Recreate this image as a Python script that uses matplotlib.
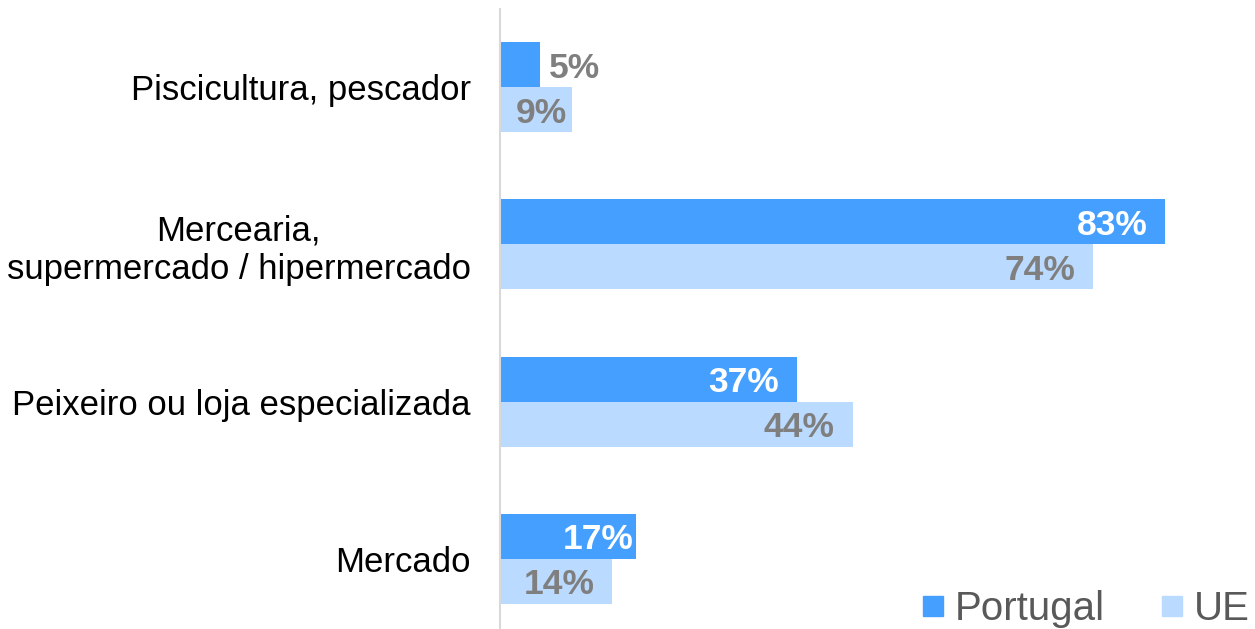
import numpy as np
import matplotlib.pyplot as plt
from matplotlib.lines import Line2D

plt.rcParams['font.family'] = ['Liberation Sans', 'DejaVu Sans']

# data
categories = ['Piscicultura, pescador',
              'Mercearia,\nsupermercado / hipermercado',
              'Peixeiro ou loja especializada',
              'Mercado']
portugal = [5, 83, 37, 17]
ue = [9, 74, 44, 14]

c_pt = '#449FFF'
c_ue = '#BBDAFF'
grey = '#7F7F7F'

fig = plt.figure(figsize=(12.55, 6.29), dpi=100)
ax = fig.add_axes([500/1255, 0, 755/1255, 620/629])

y = np.arange(len(categories))[::-1]
h = 0.286
ax.barh(y + h/2, portugal, height=h, color=c_pt)
ax.barh(y - h/2, ue, height=h, color=c_ue)

ax.set_xlim(0, 94.2)
ax.set_ylim(-0.445, 3.496)
ax.set_yticks(y)
ax.set_yticklabels(categories, fontsize=25, multialignment='center')
ax.tick_params(axis='y', length=0, pad=21)
ax.tick_params(axis='x', bottom=False, labelbottom=False)
for s in ['top', 'right', 'bottom']:
    ax.spines[s].set_visible(False)
ax.spines['left'].set_color('#D9D9D9')
ax.spines['left'].set_linewidth(1.5)

# data labels (offsets in points from bar end)
lab_kw = dict(fontsize=25.5, fontweight='bold', va='center_baseline')
pt_off = [6, -13, -13, -2]
ue_off = [-4, -13, -13, -13]
for yi, v, o in zip(y, portugal, pt_off):
    inside = o < 0
    ax.annotate(f'{v}%', (v, yi + h/2), xytext=(o, 0), textcoords='offset points',
                ha='right' if inside else 'left', color='white' if inside else grey, **lab_kw)
for yi, v, o in zip(y, ue, ue_off):
    ax.annotate(f'{v}%', (v, yi - h/2), xytext=(o, 0), textcoords='offset points',
                ha='right', color=grey, **lab_kw)

handles = [Line2D([], [], marker='s', ls='', color=c_pt, markersize=15),
           Line2D([], [], marker='s', ls='', color=c_ue, markersize=15)]
fig.legend(handles, ['Portugal', 'UE'], loc='center left',
           bbox_to_anchor=(919/1255, 20/629), ncol=2, frameon=False,
           fontsize=29, labelcolor='#595959', handlelength=0.7,
           handletextpad=0.2, columnspacing=1.3, borderpad=0, borderaxespad=0)

fig.savefig('out.png', dpi=100)
